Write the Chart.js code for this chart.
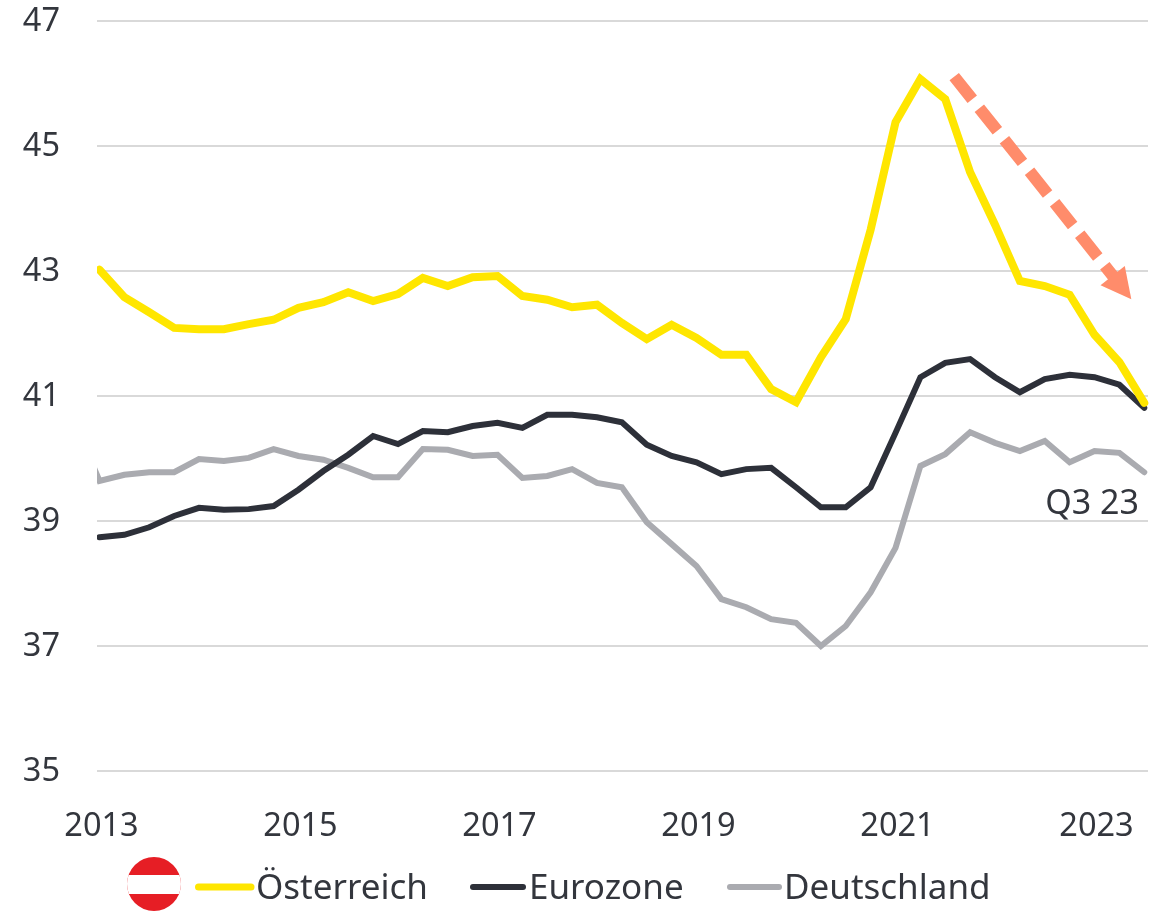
<!DOCTYPE html>
<html><head><meta charset="utf-8">
<style>html,body{margin:0;padding:0;background:#fff}#w{width:1163px;height:912px;position:relative}</style>
<script src="https://cdn.jsdelivr.net/npm/chart.js@4"></script></head>
<body><div id="w"><canvas id="c" width="1163" height="912"></canvas></div>
<script>
const quarters = ["2013 Q1","2013 Q2","2013 Q3","2013 Q4","2014 Q1","2014 Q2","2014 Q3","2014 Q4","2015 Q1","2015 Q2","2015 Q3","2015 Q4","2016 Q1","2016 Q2","2016 Q3","2016 Q4","2017 Q1","2017 Q2","2017 Q3","2017 Q4","2018 Q1","2018 Q2","2018 Q3","2018 Q4","2019 Q1","2019 Q2","2019 Q3","2019 Q4","2020 Q1","2020 Q2","2020 Q3","2020 Q4","2021 Q1","2021 Q2","2021 Q3","2021 Q4","2022 Q1","2022 Q2","2022 Q3","2022 Q4","2023 Q1","2023 Q2","2023 Q3"];
const austria = [43.02,42.58,42.34,42.09,42.07,42.07,42.15,42.22,42.41,42.50,42.66,42.52,42.63,42.89,42.76,42.90,42.92,42.60,42.54,42.42,42.46,42.17,41.91,42.14,41.93,41.66,41.66,41.11,40.90,41.62,42.23,43.66,45.38,46.07,45.75,44.58,43.74,42.84,42.76,42.62,41.98,41.54,40.89];
const eurozone = [38.74,38.78,38.90,39.08,39.21,39.18,39.19,39.24,39.50,39.80,40.06,40.36,40.23,40.44,40.42,40.52,40.57,40.49,40.70,40.70,40.66,40.58,40.22,40.04,39.94,39.75,39.83,39.85,39.54,39.22,39.22,39.54,40.41,41.30,41.53,41.59,41.30,41.06,41.27,41.34,41.30,41.18,40.81];
const germany = [39.64,39.74,39.78,39.78,39.99,39.96,40.01,40.15,40.04,39.98,39.85,39.70,39.70,40.15,40.14,40.04,40.06,39.69,39.72,39.83,39.61,39.54,38.98,38.63,38.28,37.75,37.62,37.43,37.37,37.00,37.32,37.86,38.57,39.88,40.07,40.42,40.25,40.12,40.28,39.94,40.12,40.09,39.78];
const germanyBefore = 40.6;
const yearTicks = [2013,2015,2017,2019,2021,2023];
const valueTicks = [35,37,39,41,43,45,47];
const seriesNames = ["Österreich","Eurozone","Deutschland"];
const lastLabel = "Q3 23";
const arrowFrom = {q:34.36, v:46.11};
const arrowTo = {q:41.48, v:42.55};

const FONT = '"Noto Sans"', INK = '#33363D', YEL='#FFE600', DRK='#2D3039', GRY='#AAABB0', ARW='#FF8C6B';
const pts = a => a.map((v,i)=>({x:i,y:v}));
const clip = {left:0,top:false,right:false,bottom:false};
const line = (label,data,color,w)=>({label,data,borderColor:color,backgroundColor:color,borderWidth:w,pointRadius:0,tension:0,
  borderCapStyle:'round',borderJoinStyle:'miter',clip});

const extras = {id:'extras',
 afterDatasetsDraw(ch){
  const c=ch.ctx,X=ch.scales.x,Y=ch.scales.y;
  const x0=X.getPixelForValue(arrowFrom.q),y0=Y.getPixelForValue(arrowFrom.v),x1=X.getPixelForValue(arrowTo.q),y1=Y.getPixelForValue(arrowTo.v);
  const a=Math.atan2(y1-y0,x1-x0),hl=30,hw=15.5;
  const bx=x1-hl*Math.cos(a),by=y1-hl*Math.sin(a);
  c.save();c.strokeStyle=ARW;c.fillStyle=ARW;c.lineWidth=12;c.setLineDash([29,11.3]);c.lineCap='butt';
  c.beginPath();c.moveTo(x0,y0);c.lineTo(bx+3*Math.cos(a),by+3*Math.sin(a));c.stroke();c.setLineDash([]);
  c.beginPath();c.moveTo(x1,y1);c.lineTo(bx-hw*Math.sin(a),by+hw*Math.cos(a));c.lineTo(bx+hw*Math.sin(a),by-hw*Math.cos(a));c.closePath();c.fill();
  c.font='34px '+FONT;c.fillStyle=INK;c.textAlign='center';c.textBaseline='alphabetic';
  c.fillText(lastLabel,1092,514);
  c.save();c.beginPath();c.arc(154,884,27,0,Math.PI*2);c.clip();
  c.fillStyle='#E61E25';c.fillRect(127,857,54,54);c.fillStyle='#fff';c.fillRect(127,875,54,19);c.restore();
  const items=[[198.5,251,256],[473,523,529],[730,779,784]];
  c.font='35px '+FONT;c.textAlign='left';c.lineCap='round';
  ch.data.datasets.forEach((d,i)=>{const it=items[i];
    c.strokeStyle=d.borderColor;c.lineWidth=i==0?7:6;c.beginPath();c.moveTo(it[0],887);c.lineTo(it[1],887);c.stroke();
    c.fillStyle=INK;c.fillText(d.label,it[2],899);});
  c.restore();
 }};

new Chart(document.getElementById('c'),{type:'line',
 data:{labels:quarters,datasets:[
  line(seriesNames[0],pts(austria),YEL,8),
  line(seriesNames[1],pts(eurozone),DRK,6),
  line(seriesNames[2],[{x:-1,y:germanyBefore},...pts(germany)],GRY,6)]},
 options:{responsive:false,animation:false,parsing:false,
  layout:{padding:{top:21,right:15,left:0,bottom:0}},
  plugins:{legend:{display:false},tooltip:{enabled:false}},
  scales:{
   x:{type:'linear',min:-0.1,max:42.15,
     grid:{display:false},border:{display:false},
     afterBuildTicks(s){s.ticks=yearTicks.map(y=>({value:(y-2013)*4}));},
     afterFit(s){s.height=141;s.paddingLeft=0;s.paddingRight=0;},
     ticks:{autoSkip:false,maxRotation:0,color:INK,padding:28,labelOffset:2,font:{family:FONT,size:32.5},callback:v=>String(2013+v/4)}},
   y:{min:35,max:47,
     grid:{color:'#D9D9D9',lineWidth:2,drawTicks:false},border:{display:false},
     afterBuildTicks(s){s.ticks=valueTicks.map(v=>({value:v}));},
     afterFit(s){s.width=97;s.paddingTop=0;s.paddingBottom=0;},
     ticks:{color:INK,padding:37,labelOffset:1,font:{family:FONT,size:32.5}}}
  }},
 plugins:[extras]});
</script></body></html>
